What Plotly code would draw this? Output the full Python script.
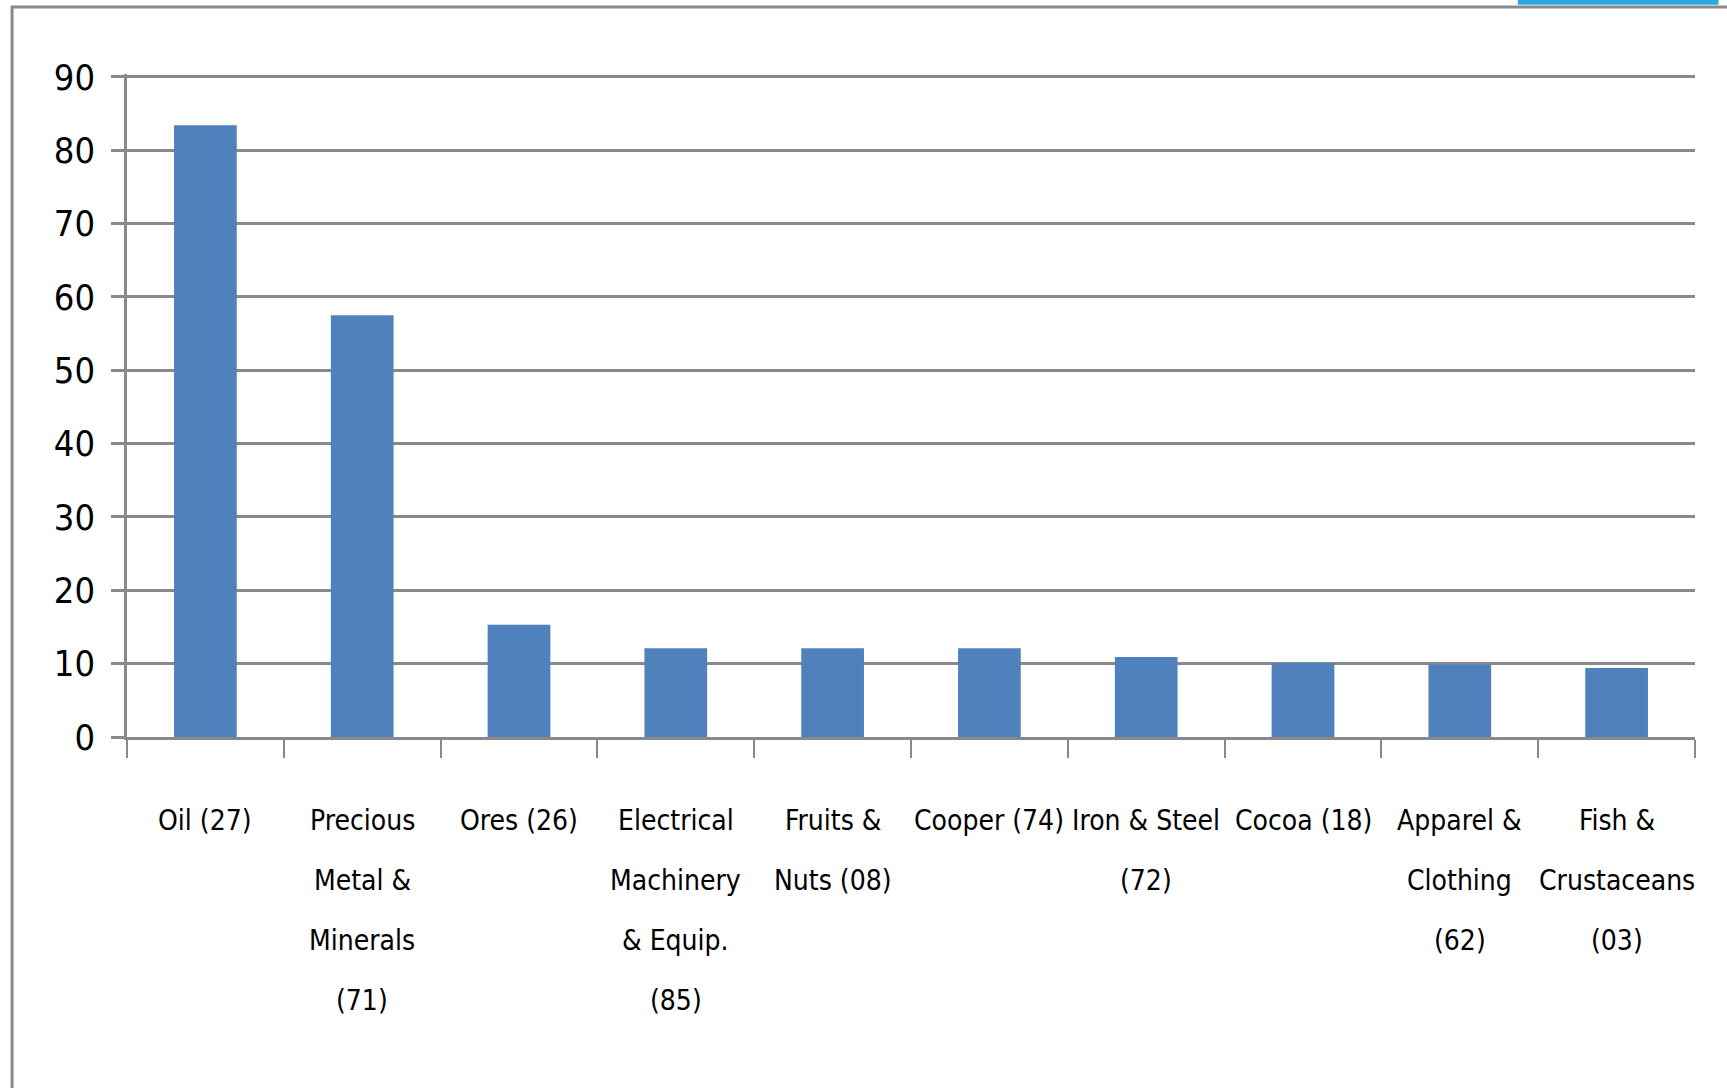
import plotly.graph_objects as go

categories = ["Oil (27)", "Precious Metal & Minerals (71)", "Ores (26)",
              "Electrical Machinery & Equip. (85)", "Fruits & Nuts (08)",
              "Cooper (74)", "Iron & Steel (72)", "Cocoa (18)",
              "Apparel & Clothing (62)", "Fish & Crustaceans (03)"]
label_lines = [["Oil (27)"], ["Precious", "Metal &", "Minerals", "(71)"],
               ["Ores (26)"], ["Electrical", "Machinery", "& Equip.", "(85)"],
               ["Fruits &", "Nuts (08)"], ["Cooper (74)"], ["Iron & Steel", "(72)"],
               ["Cocoa (18)"], ["Apparel &", "Clothing", "(62)"],
               ["Fish &", "Crustaceans", "(03)"]]
values = [83.4, 57.5, 15.3, 12.1, 12.1, 12.1, 10.9, 10.1, 9.9, 9.4]
y_ticks = [0, 10, 20, 30, 40, 50, 60, 70, 80, 90]

FONT = "DejaVu Sans Condensed, Liberation Sans, Arial"
GRID = "#898989"

fig = go.Figure(go.Bar(x=categories, y=values, marker=dict(color="#4F81BD", line=dict(width=0))))

for cat, lines in zip(categories, label_lines):
    for j, line in enumerate(lines):
        fig.add_annotation(x=cat, y=0, xref="x", yref="paper", yanchor="middle",
                           yshift=-(83 + 60 * j), text=line, showarrow=False,
                           font=dict(family=FONT, size=28, color="#000000"))

# outer frame and top-right decoration (paper coords relative to the plot area)
fig.add_shape(type="rect", xref="paper", yref="paper", x0=-0.0733, x1=1.05, y0=-0.7, y1=1.101,
              line=dict(color="#8a8a8a", width=3), fillcolor="rgba(0,0,0,0)", layer="below")
fig.add_shape(type="rect", xref="paper", yref="paper", x0=0.887, x1=1.015, y0=1.1045, y1=1.13,
              line=dict(width=0), fillcolor="#29A9E1")

fig.update_layout(
    width=1727, height=1088,
    margin=dict(l=127, r=32, t=74, b=351),
    paper_bgcolor="white", plot_bgcolor="white",
    bargap=0.6, showlegend=False,
    font=dict(family=FONT, color="#000000"),
)
fig.update_xaxes(range=[-0.5, 9.5], showticklabels=False, showgrid=False,
                 showline=True, linecolor=GRID, linewidth=2.5,
                 ticks="outside", tickson="boundaries", ticklen=18, tickwidth=2, tickcolor=GRID)
fig.update_yaxes(range=[0, 90.4], tickvals=y_ticks, showgrid=True, gridcolor=GRID, gridwidth=2.5,
                 zeroline=False, showline=True, linecolor=GRID, linewidth=2.5,
                 ticks="outside", ticklen=13, tickwidth=2.5, tickcolor=GRID,
                 ticklabelstandoff=9,
                 tickfont=dict(family=FONT, size=36, color="#000000"))

fig.write_html("out.html")
